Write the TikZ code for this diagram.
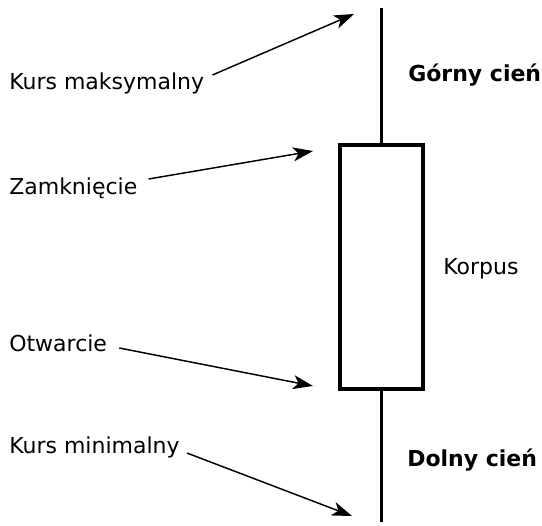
\documentclass[tikz,border=0pt]{standalone}
\usepackage{fontspec}
\setmainfont{DejaVu Sans}
\usetikzlibrary{arrows.meta}

\tikzset{
  etykieta/.style={anchor=base west, inner sep=0pt, font=\fontsize{16.5}{20}\selectfont},
  strzalka/.style={line width=1.1pt, -{Stealth[length=15pt, width=10.5pt, inset=4pt]}},
  knot/.style={line width=2.4pt}
}

\begin{document}
\begin{tikzpicture}[x=0.75pt, y=-0.75pt]
  \useasboundingbox (0,0) rectangle (542,525);

  % Korpus swiecy
  \node[draw, knot, minimum width=62.25pt, minimum height=183pt, inner sep=0pt] (korpus) at (381.5,267) {};
  \coordinate (szczyt) at (381.5,8);
  \coordinate (dno) at (381.5,522);
  \draw[knot] (szczyt) -- (korpus.north);
  \draw[knot] (korpus.south) -- (dno);

  % Opisy po prawej
  \node[etykieta, font=\fontsize{16.5}{20}\selectfont\bfseries] (gorny) at (408,81) {Górny cień};
  \node[etykieta] (opis) at (443,274) {Korpus};
  \node[etykieta, font=\fontsize{16.5}{20}\selectfont\bfseries] (dolny) at (407,466) {Dolny cień};

  % Opisy po lewej
  \node[etykieta] (kmax) at (9,89) {Kurs maksymalny};
  \node[etykieta] (zamk) at (9,194) {Zamknięcie};
  \node[etykieta] (otw) at (9,351) {Otwarcie};
  \node[etykieta] (kmin) at (9,453) {Kurs minimalny};

  % Punkty docelowe
  \coordinate (pmax) at (354,14);
  \coordinate (pzamk) at (313,151);
  \coordinate (potw) at (313,386);
  \coordinate (pmin) at (352,516);

  % Strzalki
  \draw[strzalka] ([shift={(8,-14)}]kmax.base east) -- (pmax);
  \draw[strzalka] ([shift={(11,-15)}]zamk.base east) -- (pzamk);
  \draw[strzalka] ([shift={(12,-3)}]otw.base east) -- (potw);
  \draw[strzalka] ([shift={(7,0)}]kmin.base east) -- (pmin);
\end{tikzpicture}
\end{document}
